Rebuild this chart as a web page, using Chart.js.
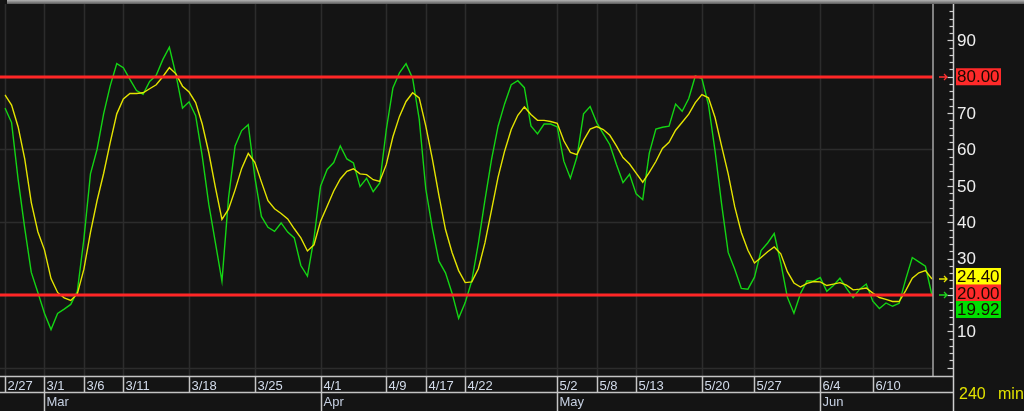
<!DOCTYPE html>
<html>
<head>
<meta charset="utf-8">
<script src="https://cdn.jsdelivr.net/npm/chart.js@4.4.1/dist/chart.umd.min.js"></script>
<style>
  html, body { margin: 0; padding: 0; background: #141414; }
  canvas { display: block; }
</style>
</head>
<body>
<canvas id="stoch" width="1024" height="411"></canvas>
<script>
// ==================== DATA ====================
// %K (green), one value per 240 min bar
const kValues = [
    71.4, 67.4, 51.7, 38.4, 26.2, 20.7, 15.0, 10.5, 14.9, 16.1,
    17.4, 21.0, 35.4, 53.3, 60.0, 69.8, 77.5, 83.6, 82.5, 79.3,
    76.2, 75.2, 78.7, 80.4, 84.7, 88.1, 80.6, 71.4, 73.1, 69.3,
    58.2, 44.9, 34.4, 23.8, 46.7, 61.0, 65.2, 66.8, 52.4, 41.6,
    38.6, 37.5, 39.8, 37.3, 35.7, 28.1, 25.2, 35.6, 49.9, 54.5,
    56.4, 61.0, 57.4, 56.3, 49.8, 52.1, 48.4, 50.8, 65.5, 76.9,
    81.1, 83.6, 79.6, 68.4, 49.2, 38.4, 29.3, 26.1, 20.5, 13.6,
    17.9, 23.9, 34.2, 46.1, 57.2, 66.4, 72.6, 77.8, 78.9, 77.0,
    66.5, 64.3, 67.0, 67.0, 66.2, 56.8, 52.1, 58.0, 69.8, 71.8,
    67.4, 64.3, 61.3, 55.9, 50.9, 53.2, 47.8, 46.2, 59.0, 65.6,
    66.1, 66.4, 72.5, 70.5, 74.0, 80.2, 79.5, 72.3, 59.6, 45.0,
    31.7, 27.1, 21.8, 21.6, 24.9, 32.2, 34.3, 36.9, 28.8, 19.4,
    15.0, 20.4, 23.9, 23.8, 24.8, 21.0, 22.6, 24.6, 21.8, 19.3,
    21.6, 23.0, 18.3, 16.3, 17.8, 16.9, 17.7, 24.3, 30.3, 29.1,
    27.9, 19.92
];

// %D (yellow)
const dValues = [
    75.0, 72.2, 66.2, 57.4, 45.4, 37.4, 32.4, 24.5, 20.7, 19.2,
    18.5, 20.3, 27.1, 37.2, 45.9, 53.4, 61.9, 69.8, 73.9, 75.4,
    75.4, 75.6, 76.7, 77.8, 80.0, 82.5, 80.8, 77.4, 75.8, 72.9,
    67.0, 59.1, 49.6, 40.8, 43.6, 48.9, 54.8, 58.9, 56.5, 51.1,
    45.9, 43.7, 42.4, 40.9, 38.2, 35.7, 32.1, 33.8, 40.3, 44.4,
    48.6, 51.9, 54.0, 54.7, 53.3, 53.1, 51.7, 51.2, 55.9, 63.5,
    69.1, 73.2, 75.6, 74.2, 66.5, 57.4, 47.4, 38.0, 31.7, 26.7,
    23.4, 23.6, 27.2, 34.3, 43.3, 52.4, 59.6, 65.5, 69.4, 71.7,
    69.6, 68.0, 68.0, 67.7, 67.2, 62.4, 59.2, 58.6, 62.5, 65.6,
    66.3, 65.5, 63.9, 61.0, 57.8, 56.0, 53.5, 51.0, 53.7, 56.7,
    60.3, 62.0, 65.3, 67.5, 69.7, 72.9, 75.1, 74.2, 68.8, 60.9,
    53.3, 44.2, 37.2, 32.3, 28.8, 30.3, 31.9, 33.2, 31.3, 26.4,
    23.3, 22.2, 23.2, 23.7, 23.6, 22.6, 23.0, 23.4, 22.7, 21.4,
    21.6, 21.9, 20.5, 19.3, 18.8, 18.2, 18.2, 21.2, 24.6, 26.1,
    26.7, 24.4
];

// date row: label and the bar it starts on
const dateLabels = ['2/27', '3/1', '3/6', '3/11', '3/18', '3/25', '4/1', '4/9', '4/17', '4/22',
                    '5/2', '5/8', '5/13', '5/20', '5/27', '6/4', '6/10'];
const dateBars   = [0, 6, 12, 18, 28, 38, 48, 58, 64, 70, 84, 90, 96, 106, 114, 124, 132];

const monthLabels = ['Mar', 'Apr', 'May', 'Jun'];
const monthBars   = [6, 48, 84, 124];

const axisLabels = [90, 70, 60, 50, 40, 30, 10];
const gridValues = [0, 20, 40, 60, 80];
const levelValues = [80, 20];

const lastK = 19.92;
const lastD = 24.40;

// ==================== DECORATION ====================
const AXIS_X = 953.5;
const STRIP_TOP = 376.5;
const STRIP_MID = 392.5;

function drawArrow(ctx, y, color) {
    ctx.strokeStyle = color;
    ctx.lineWidth = 1.3;
    ctx.beginPath();
    ctx.moveTo(939, y); ctx.lineTo(947, y);
    ctx.moveTo(944, y - 3); ctx.lineTo(947, y); ctx.lineTo(944, y + 3);
    ctx.stroke();
}

function drawTag(ctx, centerY, text, bg) {
    ctx.fillStyle = bg;
    ctx.fillRect(956, centerY - 8.5, 45, 17);
    ctx.fillStyle = '#1a0a00';
    ctx.font = '17px "Liberation Sans", Arial, sans-serif';
    ctx.textAlign = 'left';
    ctx.textBaseline = 'middle';
    ctx.fillText(text, 957, centerY + 1);
}

const stochDeco = {
    id: 'stochDeco',
    beforeDraw(chart) {
        const ctx = chart.ctx;
        ctx.save();
        ctx.fillStyle = '#141414';
        ctx.fillRect(0, 0, chart.width, chart.height);
        // top bar
        const g = ctx.createLinearGradient(0, 0, 0, 4);
        g.addColorStop(0, '#b4b4b4');
        g.addColorStop(1, '#5a5a5a');
        ctx.fillStyle = g;
        ctx.fillRect(7, 0, chart.width - 7, 4);
        ctx.restore();
    },
    beforeDatasetsDraw(chart) {
        const { ctx, chartArea, scales } = chart;
        ctx.save();
        ctx.strokeStyle = '#2c2c2c';
        ctx.lineWidth = 1.5;
        gridValues.forEach(v => {
            const y = Math.round(scales.y.getPixelForValue(v)) + 0.5;
            ctx.beginPath(); ctx.moveTo(0, y); ctx.lineTo(chartArea.right, y); ctx.stroke();
        });
        dateBars.forEach(b => {
            const x = Math.round(scales.x.getPixelForValue(b)) + 0.5;
            ctx.beginPath(); ctx.moveTo(x, chartArea.top); ctx.lineTo(x, STRIP_TOP); ctx.stroke();
        });
        ctx.restore();
    },
    afterDatasetsDraw(chart) {
        const { ctx, chartArea, scales } = chart;
        const yOf = v => scales.y.getPixelForValue(v);
        ctx.save();

        // overbought / oversold levels
        ctx.strokeStyle = '#ff2626';
        ctx.lineWidth = 3;
        levelValues.forEach(v => {
            const y = Math.round(yOf(v));
            ctx.beginPath(); ctx.moveTo(0, y); ctx.lineTo(chartArea.right + 1, y); ctx.stroke();
        });

        // right edge of plot
        ctx.strokeStyle = '#a6a6a6';
        ctx.lineWidth = 1.5;
        ctx.beginPath(); ctx.moveTo(933, chartArea.top); ctx.lineTo(933, STRIP_TOP); ctx.stroke();

        // bottom strip
        ctx.strokeStyle = '#c4c4c4';
        ctx.lineWidth = 1.5;
        ctx.beginPath();
        ctx.moveTo(0, STRIP_TOP); ctx.lineTo(AXIS_X, STRIP_TOP);
        ctx.moveTo(0, STRIP_MID); ctx.lineTo(AXIS_X, STRIP_MID);
        ctx.stroke();

        ctx.font = '13px "Liberation Sans", Arial, sans-serif';
        ctx.textAlign = 'left';
        ctx.textBaseline = 'alphabetic';
        dateBars.forEach((b, i) => {
            const x = Math.round(scales.x.getPixelForValue(b)) + 0.5;
            ctx.strokeStyle = '#c4c4c4';
            ctx.beginPath(); ctx.moveTo(x, STRIP_TOP); ctx.lineTo(x, STRIP_MID); ctx.stroke();
            ctx.fillStyle = '#d2dbea';
            ctx.fillText(dateLabels[i], x + 2, 390);
        });
        monthBars.forEach((b, i) => {
            const x = Math.round(scales.x.getPixelForValue(b)) + 0.5;
            ctx.strokeStyle = '#c4c4c4';
            ctx.beginPath(); ctx.moveTo(x, STRIP_MID); ctx.lineTo(x, 411); ctx.stroke();
            ctx.fillStyle = '#c6d0e2';
            ctx.fillText(monthLabels[i], x + 2, 406);
        });

        // right axis
        ctx.strokeStyle = '#cfcfcf';
        ctx.lineWidth = 1.5;
        ctx.beginPath(); ctx.moveTo(AXIS_X, chartArea.top); ctx.lineTo(AXIS_X, 411); ctx.stroke();
        ctx.lineWidth = 1.2;
        for (let v = 0; v <= 98; v += 2) {
            const y = Math.round(yOf(v)) + 0.5;
            const len = v % 10 === 0 ? 6 : 4;
            ctx.beginPath(); ctx.moveTo(AXIS_X - len, y); ctx.lineTo(AXIS_X, y); ctx.stroke();
        }
        ctx.fillStyle = '#eeeeee';
        ctx.font = '17px "Liberation Sans", Arial, sans-serif';
        ctx.textBaseline = 'middle';
        axisLabels.forEach(v => ctx.fillText(String(v), 957, yOf(v) + 1));

        // arrows and value tags
        drawArrow(ctx, Math.round(yOf(levelValues[0])), '#ff3030');
        drawArrow(ctx, Math.round(yOf(lastD)), '#e6e600');
        drawArrow(ctx, Math.round(yOf(lastK)), '#1ed61e');

        drawTag(ctx, yOf(levelValues[0]), levelValues[0].toFixed(2), '#ff2a2a');
        const redY = yOf(levelValues[1]) - 2;
        drawTag(ctx, redY - 16.5, lastD.toFixed(2), '#ffff00');
        drawTag(ctx, redY, levelValues[1].toFixed(2), '#ff2a2a');
        drawTag(ctx, redY + 16.5, lastK.toFixed(2), '#00e000');

        // bar period
        ctx.fillStyle = '#e2e200';
        ctx.font = '16px "Liberation Sans", Arial, sans-serif';
        ctx.textBaseline = 'alphabetic';
        ctx.fillText('240', 959, 399);
        ctx.fillText('min', 998, 399);

        ctx.restore();
    }
};

// ==================== CHART ====================
const bars = kValues.map((_, i) => i);

new Chart(document.getElementById('stoch'), {
    type: 'line',
    data: {
        labels: bars,
        datasets: [
            {
                label: '%D',
                data: dValues,
                borderColor: '#e4e400',
                borderWidth: 1.4,
                pointRadius: 0,
                tension: 0,
                order: 0
            },
            {
                label: '%K',
                data: kValues,
                borderColor: '#14d414',
                borderWidth: 1.4,
                pointRadius: 0,
                tension: 0,
                order: 1
            }
        ]
    },
    options: {
        responsive: false,
        animation: false,
        devicePixelRatio: 1,
        layout: { padding: { left: 5, right: 92, top: 4, bottom: 36 } },
        plugins: { legend: { display: false }, tooltip: { enabled: false } },
        scales: {
            x: { type: 'category', display: false, offset: false },
            y: { display: false, min: -2, max: 100 }
        }
    },
    plugins: [stochDeco]
});
</script>
</body>
</html>
